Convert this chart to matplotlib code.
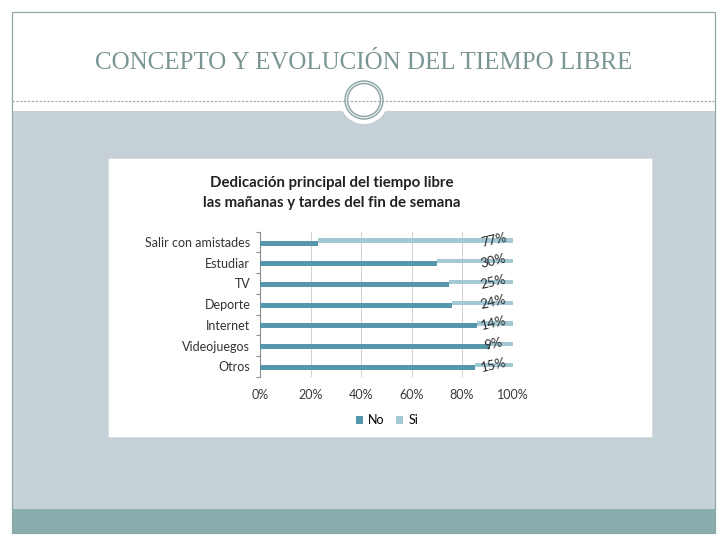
import numpy as np
import matplotlib
matplotlib.use("Agg")
import matplotlib.pyplot as plt
from matplotlib.patches import Rectangle, Circle

categories = ["Salir con amistades", "Estudiar", "TV", "Deporte", "Internet", "Videojuegos", "Otros"]
no_vals = [23, 70, 75, 76, 86, 91, 85]
si_vals = [77, 30, 25, 24, 14, 9, 15]
x_ticks = [0, 20, 40, 60, 80, 100]
slide_title = "CONCEPTO Y EVOLUCIÓN DEL TIEMPO LIBRE"
chart_title = "Dedicación principal del tiempo libre\nlas mañanas y tardes del fin de semana"

W, H = 728, 546
c_no = "#5797ab"
c_si = "#a3c9d5"
c_band = "#c6d1d7"
c_foot = "#8aacad"
c_frame = "#8fa8a8"
c_title = "#7b9594"

fig = plt.figure(figsize=(W / 100, H / 100), dpi=100)
fig.patch.set_facecolor("white")

# slide background, drawn in pixel units
bg = fig.add_axes([0, 0, 1, 1])
bg.set_xlim(0, W)
bg.set_ylim(H, 0)
bg.axis("off")
bg.add_patch(Rectangle((12, 12), 703, 521, facecolor="white", edgecolor="none"))
bg.add_patch(Rectangle((12, 110.5), 703, 398, facecolor=c_band, edgecolor="none"))
bg.add_patch(Rectangle((12, 508.5), 703, 25, facecolor=c_foot, edgecolor="none"))
bg.add_patch(Rectangle((12, 12), 703, 521, facecolor="none", edgecolor=c_frame, lw=0.9))
bg.plot([12, 715], [101, 101], color="#9aa6a6", lw=0.8, ls=(0, (2, 1.5)))
bg.add_patch(Circle((364, 100), 24, facecolor="white", edgecolor="none"))
bg.add_patch(Circle((364, 100), 19, facecolor="none", edgecolor=c_frame, lw=1.1))
bg.add_patch(Circle((364, 100), 16.5, facecolor="none", edgecolor=c_frame, lw=1.1))
bg.text(364, 63, slide_title, ha="center", va="center", fontsize=18,
        family="Liberation Serif", color=c_title)
# white box holding the chart
bg.add_patch(Rectangle((108, 158), 544, 279, facecolor="white", edgecolor="#d8dede", lw=0.6))
bg.text(332, 193, chart_title, ha="center", va="center", fontsize=10.8,
        family="Lato", fontweight="bold", color="#222222", linespacing=1.55)

# bar chart
ax = fig.add_axes([260 / W, 1 - 376.7 / H, 252.5 / W, 145 / H])
ax.set_facecolor("none")
y = np.arange(len(categories))
ax.barh(y + 0.05, no_vals, height=0.24, color=c_no, label="No", zorder=3)
ax.barh(y - 0.07, si_vals, left=no_vals, height=0.21, color=c_si, label="Si", zorder=3)
for i, v in enumerate(si_vals):
    ax.text(92.5, i - 0.08, f"{v}%", ha="center", va="center", rotation=13,
            fontsize=9.5, color="#2b2b2b", family="Lato", zorder=4)

ax.set_xlim(0, 100)
ax.set_ylim(len(categories) - 0.5, -0.5)
ax.set_xticks(x_ticks)
ax.set_xticklabels([f"{t}%" for t in x_ticks], family="Lato", fontsize=9, color="#3a3a3a")
ax.set_yticks(y)
ax.set_yticklabels(categories, family="Lato", fontsize=9, color="#333333")
ax.set_yticks(np.arange(len(categories) + 1) - 0.5, minor=True)
ax.tick_params(axis="y", which="major", length=0, pad=7)
ax.tick_params(axis="y", which="minor", length=3, color="#8c8c8c", width=0.8)
ax.tick_params(axis="x", length=0, pad=9)
ax.grid(axis="x", color="#d0d0d0", lw=0.7, zorder=0)
for s in ["top", "right", "bottom"]:
    ax.spines[s].set_visible(False)
ax.spines["left"].set_color("#8c8c8c")
ax.spines["left"].set_linewidth(0.8)

fig.legend(loc="center", bbox_to_anchor=(387 / W, 1 - 420 / H), ncol=2, frameon=False,
           handlelength=0.6, handleheight=0.6, handletextpad=0.4, columnspacing=0.9,
           prop={"family": "Lato", "size": 9})

fig.savefig("out.png", dpi=100, facecolor=fig.get_facecolor())
